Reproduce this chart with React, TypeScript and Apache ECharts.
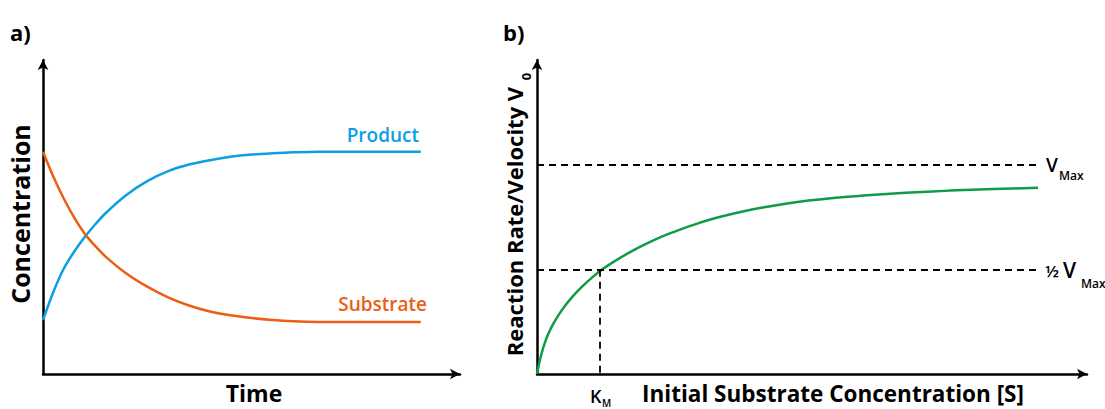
import React, { useEffect, useRef } from "react";
import * as echarts from "echarts";

// Panel a) — concentration vs time
const timePoints = [0, 0.25, 0.5, 0.75, 1.0, 1.25, 1.5, 2.0, 2.5, 3.0, 3.5, 4.0, 4.5, 5.0, 5.5, 6.0, 6.6, 9.06];
const productValues = [1.72, 2.62, 3.36, 3.9, 4.36, 4.76, 5.12, 5.7, 6.14, 6.46, 6.67, 6.81, 6.92, 6.99, 7.03, 7.06, 7.08, 7.08];
const substrateValues = [7.08, 6.28, 5.58, 4.98, 4.47, 4.08, 3.74, 3.2, 2.78, 2.44, 2.18, 1.99, 1.87, 1.78, 1.72, 1.68, 1.66, 1.66];

// Panel b) — Michaelis–Menten
const substrateConc = [0, 0.5, 1, 1.5, 2, 3, 4, 5, 6.5, 8, 10, 12, 14, 17, 20, 23, 26, 29, 33, 37, 41, 47, 53, 60, 67, 75, 83, 91.1];
const velocity = [0, 4.2, 7.6, 10.3, 12.6, 16.1, 19.0, 21.5, 24.7, 27.5, 30.7, 33.5, 35.8, 38.9, 41.6, 44.0, 46.0, 47.8, 49.9, 51.6, 53.0, 54.7, 55.9, 56.9, 57.7, 58.4, 58.9, 59.3];
const vMax = 66.5;
const halfVmax = 33.2;
const kM = 11.45;
const dashEnd = 91.5;

const FONT = "'Open Sans', 'Noto Sans', sans-serif";
const BLUE = "#0BA0E2";
const ORANGE = "#EC5E14";
const GREEN = "#0F9B48";

function txt(
  text: string,
  x: number,
  y: number,
  size: number,
  opts: { align?: string; weight?: string | number; fill?: string; rotation?: number } = {}
) {
  return {
    type: "text",
    x,
    y,
    rotation: opts.rotation || 0,
    silent: true,
    style: {
      text,
      fontSize: size,
      fontFamily: FONT,
      fontWeight: opts.weight ?? "bold",
      fill: opts.fill || "#000",
      align: opts.align || "center",
      verticalAlign: "middle",
    },
  };
}

export default function App() {
  const ref = useRef<HTMLDivElement>(null);
  useEffect(() => {
    if (!ref.current) return;
    const chart = echarts.init(ref.current, undefined, { renderer: "svg" });
    const axisLine = {
      show: true,
      symbol: ["none", "arrow"],
      symbolSize: [8, 10],
      lineStyle: { color: "#000", width: 2.5 },
    };
    const baseAxis = {
      type: "value",
      axisLine,
      axisTick: { show: false },
      axisLabel: { show: false },
      splitLine: { show: false },
    };
    const dash = { color: "#000", width: 1.8, type: [7, 5] };
    const lineBase = {
      type: "line",
      smooth: 0.3,
      showSymbol: false,
      silent: true,
    };
    chart.setOption({
      animation: false,
      backgroundColor: "#fff",
      grid: [
        { left: 43, top: 60, width: 417, height: 314 },
        { left: 537, top: 60, width: 550, height: 314 },
      ],
      xAxis: [
        { ...baseAxis, gridIndex: 0, min: 0, max: 10 },
        { ...baseAxis, gridIndex: 1, min: 0, max: 100 },
      ],
      yAxis: [
        { ...baseAxis, gridIndex: 0, min: 0, max: 10 },
        { ...baseAxis, gridIndex: 1, min: 0, max: 100 },
      ],
      series: [
        {
          ...lineBase,
          name: "Product",
          xAxisIndex: 0,
          yAxisIndex: 0,
          data: timePoints.map((t, i) => [t, productValues[i]]),
          lineStyle: { color: BLUE, width: 2.5 },
        },
        {
          ...lineBase,
          name: "Substrate",
          xAxisIndex: 0,
          yAxisIndex: 0,
          data: timePoints.map((t, i) => [t, substrateValues[i]]),
          lineStyle: { color: ORANGE, width: 2.5 },
        },
        {
          ...lineBase,
          name: "Velocity",
          xAxisIndex: 1,
          yAxisIndex: 1,
          data: substrateConc.map((s, i) => [s, velocity[i]]),
          lineStyle: { color: GREEN, width: 2.5 },
          markLine: {
            silent: true,
            symbol: ["none", "none"],
            label: { show: false },
            lineStyle: dash,
            emphasis: { disabled: true },
            data: [
              [{ coord: [0, vMax] }, { coord: [dashEnd, vMax] }],
              [{ coord: [0, halfVmax] }, { coord: [dashEnd, halfVmax] }],
              [{ coord: [kM, halfVmax] }, { coord: [kM, 0] }],
            ],
          },
        },
      ],
      graphic: [
        txt("a)", 10, 32, 22, { align: "left" }),
        txt("b)", 503, 32, 22, { align: "left" }),
        txt("Concentration", 20, 214, 25, { rotation: Math.PI / 2 }),
        txt("Time", 254, 393, 23),
        txt("Product", 419, 134.5, 19, { align: "right", fill: BLUE, weight: 600 }),
        txt("Substrate", 427, 303.5, 19, { align: "right", fill: ORANGE, weight: 600 }),
        txt("Reaction Rate/Velocity V", 514, 221.5, 22, { rotation: Math.PI / 2 }),
        txt("0", 526, 76.5, 13, { rotation: Math.PI / 2 }),
        txt("Initial Substrate Concentration [S]", 833, 393, 22.5),
        txt("K", 590, 395.5, 18, { align: "left", weight: 600 }),
        txt("M", 602, 403, 10, { align: "left", weight: 600 }),
        txt("V", 1046, 164.5, 19, { align: "left", weight: 600 }),
        txt("Max", 1059, 175, 12, { align: "left", weight: 600 }),
        txt("½", 1045, 270, 17, { align: "left", weight: 600 }),
        txt("V", 1063, 270, 21, { align: "left", weight: 600 }),
        txt("Max", 1081, 283, 12, { align: "left", weight: 600 }),
      ],
    });
    return () => chart.dispose();
  }, []);
  return (
    <div
      ref={ref}
      style={{ position: "fixed", left: 0, top: 0, width: 1105, height: 409, background: "#fff" }}
    />
  );
}
